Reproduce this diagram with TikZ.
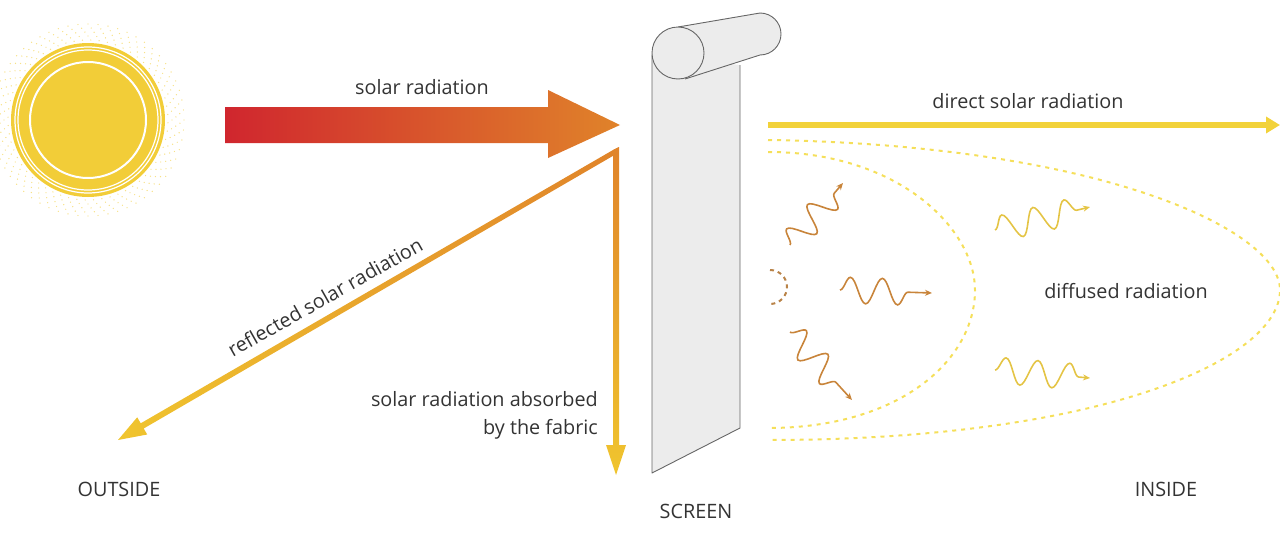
\documentclass[tikz,border=0pt]{standalone}
\usepackage{fontspec}
\setmainfont{Open Sans}
\usetikzlibrary{arrows.meta,decorations.pathmorphing,shadings}
\definecolor{sunY}{HTML}{F2CD38}
\definecolor{redA}{HTML}{D0262E}
\definecolor{orA}{HTML}{E0832A}
\definecolor{yeA}{HTML}{F0C52E}
\definecolor{dirY}{HTML}{F2D23A}
\definecolor{dashY}{HTML}{F5DF5A}
\definecolor{waveO}{HTML}{C8843A}
\definecolor{waveY}{HTML}{E4C445}
\definecolor{txt}{HTML}{333333}
\tikzset{
  lbl/.style={text=txt,font=\fontsize{19.8pt}{28pt}\selectfont,inner sep=0pt},
  dashln/.style={draw=dashY,line width=2pt,dash pattern=on 4pt off 5pt},
  wave/.style={line width=1.6pt,decorate,decoration={snake,amplitude=13pt,segment length=32pt,post length=10pt},-{Stealth[length=7pt,width=6pt]}},
}
\begin{document}
\begin{tikzpicture}[x=1pt,y=-1pt]
\useasboundingbox (0,0) rectangle (1280,554);
% sun
\foreach \r in {80,84,...,96}{
  \foreach \a in {0,6,...,354}{
    \fill[sunY!60] (88,120) ++(\a+\r:\r) circle (0.7);
  }
}
\fill[sunY] (88,120) circle (77);
\draw[white,line width=1.2pt] (88,120) circle (73);
\draw[white,line width=1.2pt] (88,120) circle (70);
\draw[white,line width=2pt] (88,120) circle (58);
% big arrow
\shade[left color=redA,right color=orA] (225,107) -- (548,107) -- (548,90) -- (620,125) -- (548,158) -- (548,143) -- (225,143) -- cycle;
% vertical arrow
\shade[top color=orA,bottom color=yeA] (613,150) -- (619,147) -- (619,445) -- (626,445) -- (616,475) -- (606,445) -- (613,445) -- cycle;
% reflected arrow
\shade[left color=yeA,right color=orA] (614.5,155) -- (143.7,428.5) -- (147.2,434.5) -- (118,440) -- (137.2,417.3) -- (140.7,423.3) -- (613,150) -- (619,147) -- cycle;
% screen
\draw[gray!80!black,fill=gray!15,line width=0.9pt,line join=round] (652,55) -- (652,473) -- (740,428) -- (740,65);
\draw[gray!80!black,fill=gray!15,line width=0.9pt] (678,27) -- (760,13) arc[start angle=-90,end angle=90,x radius=21,y radius=21] -- (685,79);
\draw[gray!80!black,fill=gray!15,line width=0.9pt] (678,53) circle (26);
% direct
\draw[dirY,line width=6pt,-{Triangle[length=14pt,width=16pt]}] (768,125) -- (1280,125);
% dashed curves
\draw[dashln] (768,140) .. controls (1100,145) and (1280,230) .. (1280,290) .. controls (1280,360) and (1100,440) .. (768,440);
\draw[dashln] (768,152) .. controls (900,152) and (975,230) .. (975,290) .. controls (975,360) and (900,428) .. (768,428);
\draw[waveO!80!gray,line width=2pt,dash pattern=on 4pt off 4pt] (770,270) arc[start angle=-90,end angle=90,radius=17];
% waves
\draw[wave,waveO] (790,245) -- (843,183);
\draw[wave,waveO] (840,290) -- (932,293);
\draw[wave,waveO] (790,332) -- (852,400);
\draw[wave,waveY] (995,230) -- (1090,207);
\draw[wave,waveY] (995,370) -- (1090,378);
% labels
\node[lbl] (t1) at (422,87) {solar radiation};
\node[lbl] (t2) at (1028,101) {direct solar radiation};
\node[lbl,rotate=29.5] (t3) at (325,297) {reflected solar radiation};
\node[lbl,align=right,anchor=east] (t4) at (598,415) {solar radiation absorbed\\by the fabric};
\node[lbl] (t5) at (1126,291) {diffused radiation};
\node[lbl] (t6) at (119,489) {OUTSIDE};
\node[lbl] (t7) at (696,511) {SCREEN};
\node[lbl] (t8) at (1166,489) {INSIDE};
\end{tikzpicture}
\end{document}
